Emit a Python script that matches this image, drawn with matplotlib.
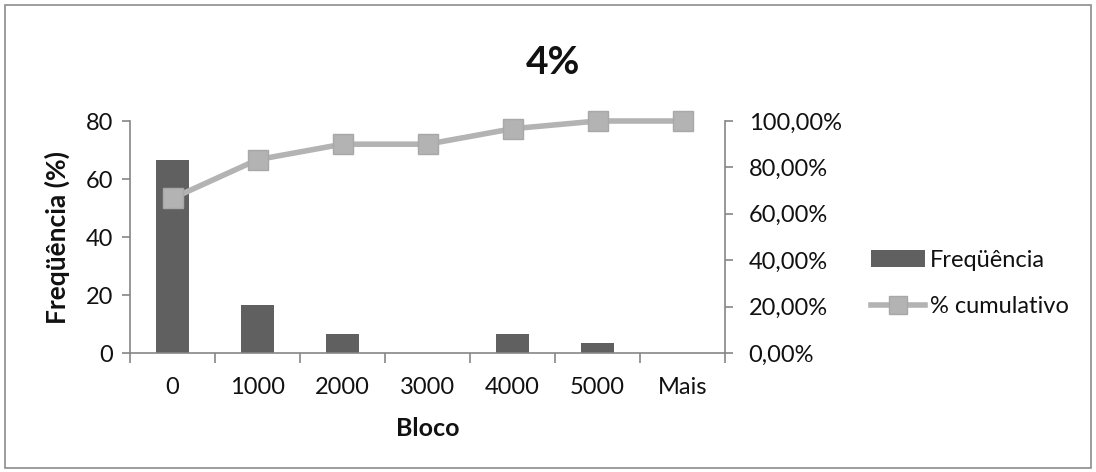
import matplotlib
matplotlib.use("Agg")
import matplotlib.pyplot as plt
from matplotlib.patches import Rectangle
from matplotlib.lines import Line2D
from matplotlib.ticker import FuncFormatter, FixedLocator

# Histogram data
categories = ["0", "1000", "2000", "3000", "4000", "5000", "Mais"]
frequency = [66.67, 16.67, 6.67, 0.0, 6.67, 3.33, 0.0]
cumulative = [0.6667, 0.8333, 0.90, 0.90, 0.9667, 1.0, 1.0]

title = "4%"
xlabel = "Bloco"
ylabel = "Freqüência (%)"
bar_label = "Freqüência"
line_label = "% cumulativo"

plt.rcParams["font.family"] = ["Lato", "DejaVu Sans"]

BAR = "#606060"
LINE = "#b3b3b3"
AXIS = "#868686"
TXT = "#111111"
FS = 17

fig = plt.figure(figsize=(10.96, 4.72), dpi=100)
fig.patches.append(Rectangle((5 / 1096, 4 / 472), 1086 / 1096, 463 / 472,
                             transform=fig.transFigure, fill=False,
                             edgecolor="#8c8c8c", linewidth=1.2))

ax = fig.add_axes([130 / 1096, 119 / 472, 595 / 1096, 232 / 472])
x = list(range(len(categories)))
ax.bar(x, frequency, width=0.39, color=BAR, zorder=2)
ax.set_xlim(-0.5, len(categories) - 0.5)
ax.set_ylim(0, 80)
ax.set_yticks([0, 20, 40, 60, 80])

ax.set_xticks(x)
ax.set_xticklabels(categories)
ax.xaxis.set_minor_locator(FixedLocator([i - 0.5 for i in range(len(categories) + 1)]))
ax.tick_params(axis="x", which="major", length=0, pad=17.5, labelsize=FS, colors=TXT)
ax.tick_params(axis="x", which="minor", length=7, width=1.2, color=AXIS)
ax.tick_params(axis="y", length=6, width=1.2, color=AXIS, labelsize=FS,
               labelcolor=TXT, pad=6)

for side in ("top", "right"):
    ax.spines[side].set_visible(False)
for side in ("left", "bottom"):
    ax.spines[side].set_color(AXIS)
    ax.spines[side].set_linewidth(1.2)

ax2 = ax.twinx()
ax2.plot(x, cumulative, color=LINE, linewidth=4, marker="s", markersize=14,
         markerfacecolor=LINE, markeredgecolor="#a8a8a8", markeredgewidth=1,
         zorder=3, clip_on=False)
ax2.set_ylim(0, 1.0)
ax2.set_yticks([0, 0.2, 0.4, 0.6, 0.8, 1.0])
ax2.yaxis.set_major_formatter(FuncFormatter(lambda v, p: f"{v * 100:.2f}%".replace(".", ",")))
ax2.tick_params(axis="y", length=6, width=1.2, color=AXIS, labelsize=FS,
                labelcolor=TXT, pad=11)
for side in ("top", "left", "bottom"):
    ax2.spines[side].set_visible(False)
ax2.spines["right"].set_color(AXIS)
ax2.spines["right"].set_linewidth(1.2)

fig.text(553 / 1096, 1 - 63 / 472, title, ha="center", va="center",
         fontsize=28, fontweight="bold", color=TXT)
fig.text(427.5 / 1096, 1 - 429 / 472, xlabel, ha="center", va="center",
         fontsize=18, fontweight="bold", color=TXT)
fig.text(57 / 1096, 1 - 237 / 472, ylabel, ha="center", va="center",
         rotation=90, fontsize=19, fontweight="bold", color=TXT)

handles = [Rectangle((0, 0), 1, 1, facecolor=BAR, edgecolor="none"),
           Line2D([], [], color=LINE, linewidth=4, marker="s", markersize=13,
                  markerfacecolor=LINE, markeredgecolor="#a8a8a8")]
fig.legend(handles, [bar_label, line_label], loc="center left",
           bbox_to_anchor=(871 / 1096, 1 - 283.5 / 472), frameon=False,
           fontsize=FS, handlelength=2.3, handleheight=0.7, handletextpad=0.2,
           labelspacing=1.1, borderpad=0, borderaxespad=0, labelcolor=TXT)

fig.savefig("out.png", dpi=100)
